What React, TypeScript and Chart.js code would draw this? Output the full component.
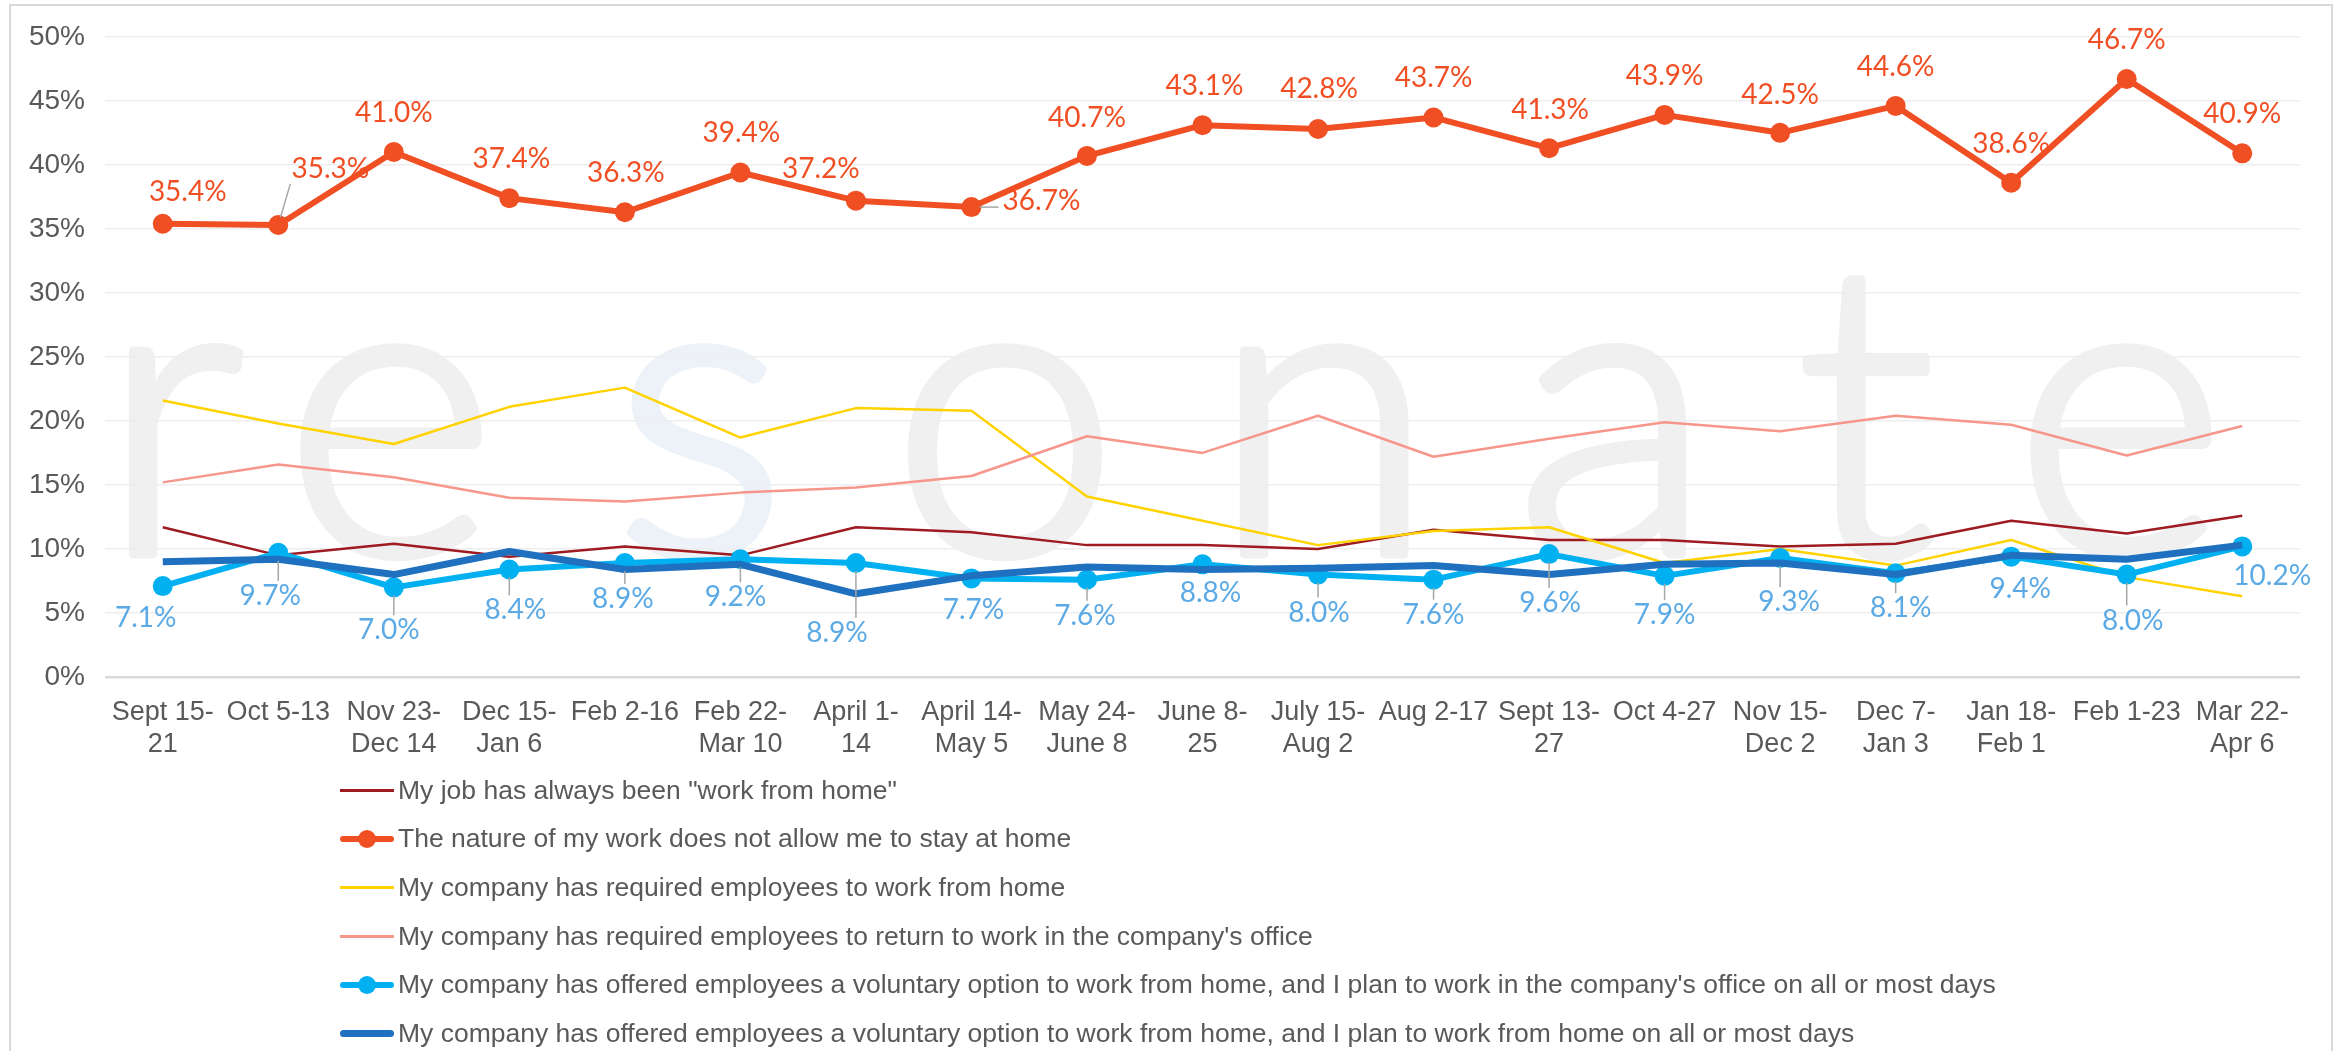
import React, { useEffect, useRef } from "react";
import { Chart, registerables } from "chart.js";

Chart.register(...registerables);

const categories: string[][] = [
  ["Sept 15-", "21"], ["Oct 5-13"], ["Nov 23-", "Dec 14"], ["Dec 15-", "Jan 6"], ["Feb 2-16"],
  ["Feb 22-", "Mar 10"], ["April 1-", "14"], ["April 14-", "May 5"], ["May 24-", "June 8"],
  ["June 8-", "25"], ["July 15-", "Aug 2"], ["Aug 2-17"], ["Sept 13-", "27"], ["Oct 4-27"],
  ["Nov 15-", "Dec 2"], ["Dec 7-", "Jan 3"], ["Jan 18-", "Feb 1"], ["Feb 1-23"], ["Mar 22-", "Apr 6"],
];

const alwaysWfh = [11.7, 9.5, 10.4, 9.4, 10.2, 9.5, 11.7, 11.3, 10.3, 10.3, 10.0, 11.5, 10.7, 10.7, 10.2, 10.4, 12.2, 11.2, 12.6];
const natureOfWork = [35.4, 35.3, 41.0, 37.4, 36.3, 39.4, 37.2, 36.7, 40.7, 43.1, 42.8, 43.7, 41.3, 43.9, 42.5, 44.6, 38.6, 46.7, 40.9];
const requiredWfh = [21.6, 19.8, 18.2, 21.1, 22.6, 18.7, 21.0, 20.8, 14.1, 12.2, 10.3, 11.4, 11.7, 8.9, 10.0, 8.7, 10.7, 7.8, 6.3];
const requiredOffice = [15.2, 16.6, 15.6, 14.0, 13.7, 14.4, 14.8, 15.7, 18.8, 17.5, 20.4, 17.2, 18.6, 19.9, 19.2, 20.4, 19.7, 17.3, 19.6];
const voluntaryOffice = [7.1, 9.7, 7.0, 8.4, 8.9, 9.2, 8.9, 7.7, 7.6, 8.8, 8.0, 7.6, 9.6, 7.9, 9.3, 8.1, 9.4, 8.0, 10.2];
const voluntaryHome = [9.0, 9.2, 8.0, 9.8, 8.4, 8.8, 6.5, 7.9, 8.6, 8.4, 8.5, 8.7, 8.0, 8.8, 8.9, 8.0, 9.5, 9.2, 10.3];

const yTicks = [0, 5, 10, 15, 20, 25, 30, 35, 40, 45, 50];

const seriesNames = [
  'My job has always been "work from home"',
  "The nature of my work does not allow me to stay at home",
  "My company has required employees to work from home",
  "My company has required employees to return to work in the company's office",
  "My company has offered employees a voluntary option to work from home, and I plan to work in the company's office on all or most days",
  "My company has offered employees a voluntary option to work from home, and I plan to work from home on all or most days",
];

// styles
const COLORS = ["#9E1B22", "#F04E23", "#FFD200", "#F7968A", "#00B0F0", "#1F71C0"];
const WIDTHS = [2.5, 6, 2.5, 2.5, 6, 7];
const MARKERS = [0, 10, 0, 0, 10, 0];
const BLUE_LABEL = "#5BAAE6";
const TEXT = "#595959";

// label placement (style)
const orangeDx = [25, 52, 0, 2, 1, 1, -35, 70, 0, 2, 1, 0, 1, 0, 0, 0, 0, 0, 0];
const orangeDy = [-32, -56, -39, -39, -39, -40, -32, -6, -38, -39, -40, -39, -38, -39, -38, -39, -39, -39, -39];
const orangeLeaders = [1, 7];
const blueDx = [-17, -8, -5, 6, -2, -5, -19, 2, -2, 8, 1, 0, 1, 0, 9, 5, 9, 6, 30];
const blueDy = [32, 43, 43, 41, 36, 38, 70, 32, 36, 29, 38, 35, 49, 39, 44, 35, 32, 46, 30];
const blueLeaders = [1, 2, 3, 4, 5, 6, 8, 10, 11, 12, 13, 14, 15, 17];

const watermarkLetters = ["r", "e", "s", "o", "n", "a", "t", "e"];
const watermarkX = [172, 390, 700, 1005, 1323, 1614, 1866, 2120];

const W = 2344;
const CH = 770;

const watermarkPlugin = {
  id: "watermark",
  beforeDraw(chart: any) {
    const ctx = chart.ctx;
    ctx.save();
    ctx.fillStyle = "#ffffff";
    ctx.fillRect(0, 0, chart.width, chart.height);
    ctx.font = '300 408px Lato, "Open Sans", sans-serif';
    ctx.textAlign = "center";
    ctx.textBaseline = "alphabetic";
    ctx.lineWidth = 9;
    ctx.lineJoin = "round";
    watermarkLetters.forEach((l, i) => {
      const c = l === "s" && i === 2 ? "#ECF2F8" : "#F0F0F0";
      ctx.fillStyle = c;
      ctx.strokeStyle = c;
      ctx.fillText(l, watermarkX[i], 554);
      ctx.strokeText(l, watermarkX[i], 554);
    });
    ctx.restore();
  },
};

function drawLabels(chart: any, dsIndex: number, values: number[], dx: number[], dy: number[], leaders: number[], color: string, radius: number) {
  const ctx = chart.ctx;
  const meta = chart.getDatasetMeta(dsIndex);
  ctx.save();
  ctx.font = '28px Lato, "Open Sans", sans-serif';
  ctx.textAlign = "center";
  ctx.textBaseline = "middle";
  meta.data.forEach((pt: any, i: number) => {
    const lx = pt.x + dx[i];
    const ly = pt.y + dy[i];
    const text = values[i].toFixed(1) + "%";
    if (leaders.includes(i)) {
      const w = ctx.measureText(text).width;
      const left = lx - w / 2, right = lx + w / 2, top = ly - 11, bottom = ly + 11;
      const tx = Math.min(Math.max(pt.x, left), right);
      const ty = Math.min(Math.max(pt.y, top), bottom);
      const vx = tx - pt.x, vy = ty - pt.y;
      const d = Math.hypot(vx, vy);
      if (d > radius + 4) {
        const ux = vx / d, uy = vy / d;
        ctx.strokeStyle = "#A6A6A6";
        ctx.lineWidth = 1.5;
        ctx.beginPath();
        ctx.moveTo(pt.x + ux * (radius - 2), pt.y + uy * (radius - 2));
        ctx.lineTo(tx - ux * 4, ty - uy * 4);
        ctx.stroke();
      }
    }
    ctx.fillStyle = color;
    ctx.fillText(text, lx, ly);
  });
  ctx.restore();
}

const labelsPlugin = {
  id: "pointLabels",
  afterDatasetsDraw(chart: any) {
    drawLabels(chart, 1, natureOfWork, orangeDx, orangeDy, orangeLeaders, COLORS[1], MARKERS[1]);
    drawLabels(chart, 4, voluntaryOffice, blueDx, blueDy, blueLeaders, BLUE_LABEL, MARKERS[4]);
  },
};

export default function App() {
  const ref = useRef<HTMLCanvasElement | null>(null);

  useEffect(() => {
    if (!ref.current) return;
    const seriesData = [alwaysWfh, natureOfWork, requiredWfh, requiredOffice, voluntaryOffice, voluntaryHome];
    const chart = new Chart(ref.current, {
      type: "line",
      data: {
        labels: categories,
        datasets: seriesData.map((d, i) => ({
          label: seriesNames[i],
          data: d,
          borderColor: COLORS[i],
          backgroundColor: COLORS[i],
          borderWidth: WIDTHS[i],
          pointRadius: MARKERS[i],
          pointHoverRadius: MARKERS[i],
          pointBorderWidth: 0,
          pointBackgroundColor: COLORS[i],
          tension: 0,
          fill: false,
          order: 6 - i,
          borderJoinStyle: "round" as const,
        })),
      },
      options: {
        responsive: false,
        animation: false,
        devicePixelRatio: 1,
        events: [],
        layout: { padding: { left: 0, right: 44, top: 34, bottom: 0 } },
        plugins: {
          legend: { display: false },
          tooltip: { enabled: false },
        },
        scales: {
          x: {
            offset: true,
            grid: { display: false, drawTicks: false },
            border: { display: false },
            ticks: {
              color: TEXT,
              font: { family: '"Liberation Sans", Arial, sans-serif', size: 27, lineHeight: 1.185 },
              padding: 20,
              maxRotation: 0,
              minRotation: 0,
              autoSkip: false,
            },
            afterFit: (s: any) => {
              s.height = 93;
            },
          },
          y: {
            min: 0,
            max: 50,
            afterBuildTicks: (s: any) => {
              s.ticks = yTicks.map((v) => ({ value: v }));
            },
            ticks: {
              color: TEXT,
              font: { family: '"Liberation Sans", Arial, sans-serif', size: 28 },
              padding: 20,
              callback: (v: any) => v + "%",
            },
            grid: {
              drawTicks: false,
              color: (c: any) => (c.tick && c.tick.value === 0 ? "#D9D9D9" : "#EEEEEE"),
              lineWidth: (c: any) => (c.tick && c.tick.value === 0 ? 2.5 : 1.5),
            },
            border: { display: false },
            afterFit: (s: any) => {
              s.width = 105;
            },
          },
        },
      },
      plugins: [watermarkPlugin, labelsPlugin],
    });
    return () => chart.destroy();
  }, []);

  return (
    <div style={{ position: "fixed", left: 0, top: 0, width: W, height: 1051, background: "#fff", overflow: "hidden" }}>
      <canvas ref={ref} width={W} height={CH} style={{ position: "absolute", left: 0, top: 0, width: W, height: CH }} />
      <div
        style={{
          position: "absolute",
          left: 9,
          top: 4,
          width: 2320,
          height: 1100,
          border: "2px solid #D9D9D9",
          pointerEvents: "none",
        }}
      />
      <div style={{ position: "absolute", left: 340, top: 766, fontFamily: '"Liberation Sans", Arial, sans-serif', fontSize: 26.5, color: TEXT }}>
        {seriesNames.map((name, i) => (
          <div key={i} style={{ height: 48.6, display: "flex", alignItems: "center", whiteSpace: "nowrap" }}>
            <div style={{ position: "relative", width: 54, height: 24, marginRight: 4, flex: "0 0 auto" }}>
              <div
                style={{
                  position: "absolute",
                  left: 0,
                  right: 0,
                  top: 12 - Math.max(WIDTHS[i], 3) / 2,
                  height: Math.max(WIDTHS[i], 3),
                  borderRadius: WIDTHS[i] > 4 ? WIDTHS[i] / 2 : 0,
                  background: COLORS[i],
                }}
              />
              {MARKERS[i] > 0 && (
                <div
                  style={{
                    position: "absolute",
                    left: 27 - 9,
                    top: 12 - 9,
                    width: 18,
                    height: 18,
                    borderRadius: 9,
                    background: COLORS[i],
                  }}
                />
              )}
            </div>
            <span>{name}</span>
          </div>
        ))}
      </div>
    </div>
  );
}
